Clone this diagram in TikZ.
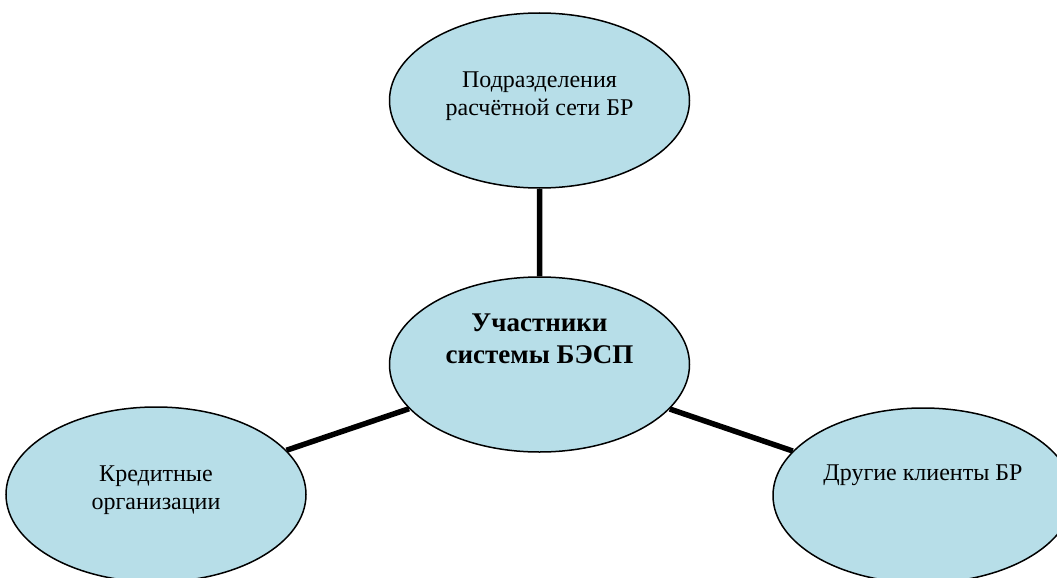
\documentclass[tikz,border=0pt]{standalone}
\usepackage{fontspec}
\setmainfont{Liberation Serif}
\usetikzlibrary{shapes.geometric}
\definecolor{bubblefill}{HTML}{B7DEE8}
\tikzset{bubble/.style={ellipse,draw,fill=bubblefill,line width=1.5pt,minimum width=300pt,minimum height=175pt,inner sep=0pt},
bubble text/.style={align=center,font=\fontsize{24}{28}\selectfont},
}

\begin{document}
\begin{tikzpicture}[x=1pt,y=-1pt]
	\useasboundingbox (0,0) rectangle (1057,578);
	\node[bubble] (1) at (539.5,100.5){};
	\node[bubble] (2) at (539.5,364.5){};
	\node[bubble] (3) at (156,494.5){};
	\node[bubble] (4) at (923,495.5){};
	
	\node[bubble text] (t1) at ([yshift=4pt]1.center){Подразделения\\расчётной сети БР};
	\node[bubble text,font=\bfseries\fontsize{27}{32}\selectfont] (t2) at ([yshift=26pt]2.center){Участники\\системы БЭСП};
	\node[bubble text] (t3) at ([yshift=4pt]3.center){Кредитные\\организации};
	\node[bubble text] (t4) at ([yshift=20pt]4.center){Другие клиенты БР};
	
	\path[draw,line width=5.5pt]
	(1) -- (2)
	(2) -- (3)
	(2) -- (4);
\end{tikzpicture}
\end{document}
